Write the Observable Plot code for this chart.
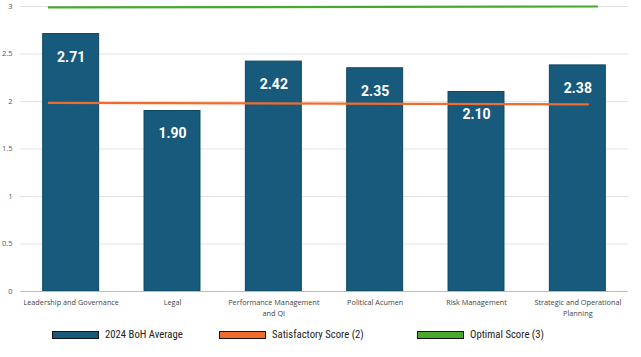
<!DOCTYPE html>
<html>
<head>
<meta charset="utf-8">
<script src="https://cdn.jsdelivr.net/npm/d3@7"></script>
<script src="https://cdn.jsdelivr.net/npm/@observablehq/plot@0.6"></script>
<style>
  html, body { margin: 0; padding: 0; background: #fff; }
  #chart { width: 641px; }
  .legend { position: relative; height: 35px; font-family: "Liberation Sans Narrow", "Roboto Condensed", "Liberation Sans", sans-serif; font-stretch: condensed; font-size: 10.7px; color: #222; }
  .legend .item { position: absolute; top: 6px; display: flex; align-items: center; }
  .legend .sw { width: 45px; height: 6px; border: 1px solid #111; margin-right: 6px; }
</style>
</head>
<body>
<div id="chart"></div>
<script>
const categories = [
  "Leadership and Governance",
  "Legal",
  "Performance Management\nand QI",
  "Political Acumen",
  "Risk Management",
  "Strategic and Operational\nPlanning"
];
const averages = [2.71, 1.90, 2.42, 2.35, 2.10, 2.38];
const yTicks = [0, 0.5, 1, 1.5, 2, 2.5, 3];
// reference lines: [position along category axis (index units), score]
const satisfactoryPos = [0.28, 5.6];
const satisfactoryScore = [1.985, 1.97];
const optimalPos = [0.28, 5.69];
const optimalScore = [2.99, 3.0];

const seriesNames = ["2024 BoH Average", "Satisfactory Score (2)", "Optimal Score (3)"];
const colors = ["#175a7c", "#ef6c2c", "#4ba82e"];

const rows = categories.map((c, i) => ({i, cat: c, value: averages[i]}));
const sat = satisfactoryPos.map((p, k) => ({p, s: satisfactoryScore[k]}));
const opt = optimalPos.map((p, k) => ({p, s: optimalScore[k]}));

const chart = Plot.plot({
  width: 641,
  height: 322,
  marginTop: 6,
  marginLeft: 20,
  marginRight: 13,
  marginBottom: 31,
  style: {fontFamily: "'Open Sans', sans-serif", background: "#fff"},
  x: {domain: [0, 6], axis: null},
  y: {domain: [0, 3], axis: null},
  marks: [
    Plot.gridY(yTicks, {stroke: "#e3e3e3", strokeOpacity: 1, strokeWidth: 1}),
    Plot.text(yTicks, {
      x: 0, y: d => d, text: d => String(d), textAnchor: "end", dx: -8,
      fontSize: 7.5, fill: "#555", frameAnchor: "left"
    }),
    Plot.rect(rows, {
      x1: d => d.i, x2: d => d.i + 1, y1: 0, y2: "value",
      insetLeft: 22.7, insetRight: 22.7,
      fill: colors[0], stroke: "#0e4662", strokeWidth: 1
    }),
    Plot.ruleY([0], {stroke: "#bdbdbd", strokeWidth: 1.2}),
    Plot.text(rows, {
      x: d => d.i + 0.5, y: 0, text: "cat", dy: 6, lineHeight: 1.45,
      lineAnchor: "top", fontSize: 7.3, fill: "#444"
    }),
    Plot.line(sat, {x: "p", y: "s", stroke: colors[1], strokeWidth: 2.2}),
    Plot.line(opt, {x: "p", y: "s", stroke: colors[2], strokeWidth: 2.2}),
    Plot.text(rows, {
      x: d => d.i + 0.5, y: "value", text: d => d.value.toFixed(2),
      dy: 23, fill: "#fff", fontSize: 14, fontWeight: "bold",
      fontFamily: "Roboto, sans-serif"
    })
  ]
});
document.getElementById("chart").appendChild(chart);

const legend = document.createElement("div");
legend.className = "legend";
const lefts = [52, 219, 417];
seriesNames.forEach((n, k) => {
  const it = document.createElement("div");
  it.className = "item";
  it.style.left = lefts[k] + "px";
  const sw = document.createElement("div");
  sw.className = "sw";
  sw.style.background = colors[k];
  const t = document.createElement("span");
  t.textContent = n;
  it.appendChild(sw); it.appendChild(t);
  legend.appendChild(it);
});
document.getElementById("chart").appendChild(legend);
</script>
</body>
</html>
